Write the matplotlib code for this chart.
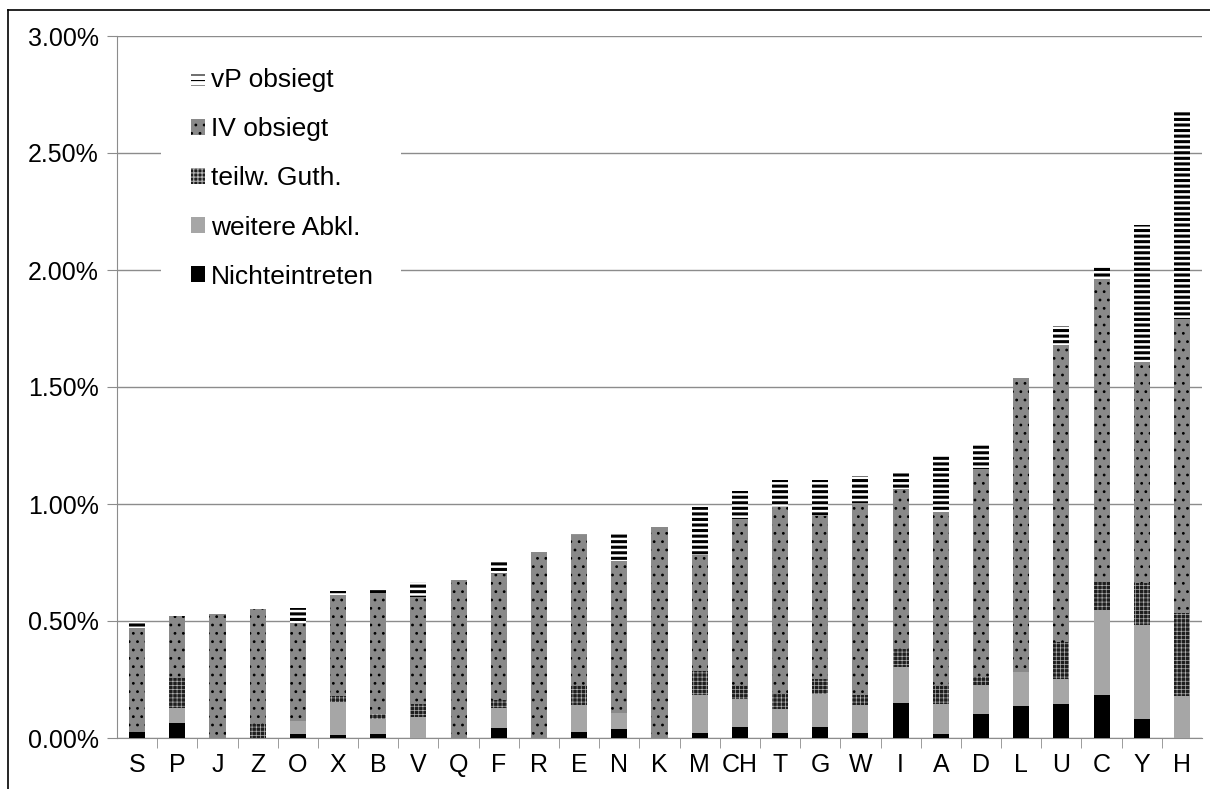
import numpy as np
import matplotlib
matplotlib.use("Agg")
import matplotlib.pyplot as plt
from matplotlib.ticker import FuncFormatter, FixedLocator

cats = ["S", "P", "J", "Z", "O", "X", "B", "V", "Q", "F", "R", "E", "N", "K",
        "M", "CH", "T", "G", "W", "I", "A", "D", "L", "U", "C", "Y", "H"]

# values in percent
nichteintreten = [0.027, 0.063, 0, 0, 0.016, 0.013, 0.019, 0, 0, 0.043, 0, 0.027, 0.040, 0,
                  0.020, 0.048, 0.023, 0.045, 0.021, 0.150, 0.019, 0.103, 0.138, 0.144, 0.183, 0.082, 0]
weitere = [0, 0.065, 0, 0, 0.057, 0.141, 0.061, 0.091, 0, 0.084, 0, 0.114, 0.065, 0,
           0.165, 0.120, 0.101, 0.144, 0.121, 0.155, 0.125, 0.123, 0.144, 0.107, 0.365, 0.399, 0.178]
teilw = [0, 0.130, 0, 0.058, 0, 0.025, 0.021, 0.053, 0, 0.034, 0, 0.081, 0, 0,
         0.101, 0.054, 0.065, 0.062, 0.041, 0.075, 0.077, 0.036, 0, 0.159, 0.120, 0.181, 0.357]
iv = [0.444, 0.263, 0.530, 0.492, 0.420, 0.432, 0.520, 0.459, 0.675, 0.538, 0.795, 0.647, 0.651, 0.902,
      0.497, 0.715, 0.800, 0.699, 0.821, 0.684, 0.744, 0.888, 1.255, 1.271, 1.292, 0.943, 1.255]
vp = [0.025, 0, 0, 0, 0.063, 0.017, 0.016, 0.062, 0, 0.053, 0, 0.003, 0.121, 0,
      0.204, 0.119, 0.114, 0.153, 0.116, 0.077, 0.241, 0.103, 0, 0.079, 0.056, 0.589, 0.884]

series = [
    ("Nichteintreten", nichteintreten, dict(facecolor="black", edgecolor="black", hatch=None)),
    ("weitere Abkl.", weitere, dict(facecolor="#a6a6a6", edgecolor="#a6a6a6", hatch=None)),
    ("teilw. Guth.", teilw, dict(facecolor="#1e1e1e", edgecolor="#b0b0b0", hatch="++++")),
    ("IV obsiegt", iv, dict(facecolor="#898989", edgecolor="black", hatch="..")),
    ("vP obsiegt", vp, dict(facecolor="white", edgecolor="black", hatch="---")),
]
hatch_lw = {"teilw. Guth.": 0.5, "IV obsiegt": 0.8, "vP obsiegt": 2.2}

plt.rcParams['font.family'] = ['Liberation Sans', 'DejaVu Sans']
plt.rcParams['hatch.linewidth'] = 0.8

fig = plt.figure(figsize=(12.1, 7.89), dpi=100)
ax = fig.add_axes([117/1210, 1-738/789, (1202-117)/1210, (738-36)/789])

x = np.arange(len(cats))
bottom = np.zeros(len(cats))
handles = []
for name, vals, st in series:
    vals = np.array(vals)
    bars = ax.bar(x, vals, 0.4, bottom=bottom, label=name, linewidth=0, zorder=3, **st)
    for b in bars:
        if hasattr(b, "set_hatch_linewidth") and name in hatch_lw:
            b.set_hatch_linewidth(hatch_lw[name])
    handles.append(bars)
    bottom = bottom + vals

ax.set_xlim(-0.5, len(cats) - 0.5)
ax.set_ylim(0, 3.0)
ax.set_yticks(np.arange(0, 3.01, 0.5))
ax.yaxis.set_major_formatter(FuncFormatter(lambda v, p: "%.2f%%" % v))
ax.grid(axis="y", color="#8c8c8c", linewidth=1)
ax.set_axisbelow(True)
ax.set_xticks(x)
ax.set_xticklabels(cats)
ax.xaxis.set_minor_locator(FixedLocator(np.arange(0.5, len(cats) - 0.5, 1)))
ax.tick_params(axis="x", which="major", length=0, labelsize=18, pad=11)
ax.tick_params(axis="x", which="minor", length=7, color="#8c8c8c", direction="out")
ax.tick_params(axis="y", length=7, color="#8c8c8c", labelsize=18, pad=6)
for s in ["top", "right"]:
    ax.spines[s].set_visible(False)
for s in ["left", "bottom"]:
    ax.spines[s].set_color("#8c8c8c")

# white box behind the legend hides the gridlines
ax.add_patch(plt.Rectangle((0.0403, 0.624), 0.2212, 0.363, transform=ax.transAxes,
                           facecolor="white", edgecolor="none", zorder=2))
leg = ax.legend(handles[::-1], [s[0] for s in series][::-1], loc="upper left",
                bbox_to_anchor=(0.0682, 0.954), fontsize=19, frameon=False,
                handlelength=0.53, handleheight=0.53, handletextpad=0.22,
                labelspacing=0.95, borderpad=0, borderaxespad=0)
leg.set_zorder(5)

# outer border
fig.add_artist(plt.Line2D([8/1210, 8/1210], [0, 1-10/789], color="black", lw=1.2))
fig.add_artist(plt.Line2D([8/1210, 1], [1-10/789, 1-10/789], color="black", lw=1.2))

fig.savefig("out.png", dpi=100)
